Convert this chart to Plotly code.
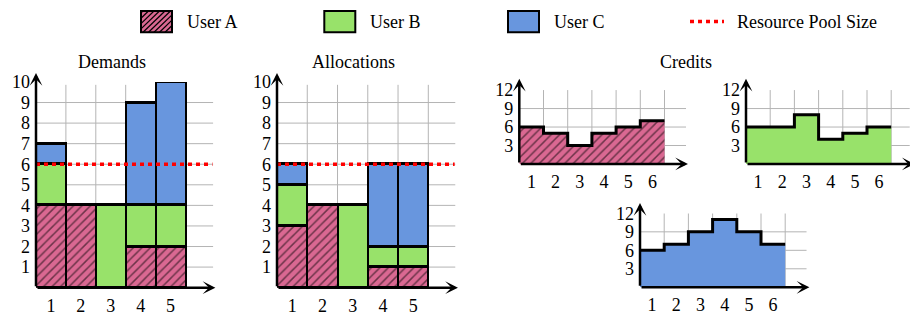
import plotly.graph_objects as go

W, H = 910, 317

# ---------------- data ----------------
series_names = ["User A", "User B", "User C", "Resource Pool Size"]
steps = ["1", "2", "3", "4", "5"]
demand_a = [4, 4, 0, 2, 2]
demand_b = [2, 0, 4, 2, 2]
demand_c = [1, 0, 0, 5, 6]
alloc_a = [3, 4, 0, 1, 1]
alloc_b = [2, 0, 4, 1, 1]
alloc_c = [1, 0, 0, 4, 4]
pool_size = 6
bar_yticks = [1, 2, 3, 4, 5, 6, 7, 8, 9, 10]

credit_steps = ["1", "2", "3", "4", "5", "6"]
credits_a = [6, 5, 3, 5, 6, 7]
credits_b = [6, 6, 8, 4, 5, 6]
credits_c = [6, 7, 9, 11, 9, 7]
credit_yticks = [3, 6, 9, 12]

# ---------------- style ----------------
PINK = "#DA6892"
GREEN = "#98E26A"
BLUE = "#6896DE"
GRID = "#b4b4b4"
FONT = "Liberation Serif"
TICK_SIZE = 18
HATCH = dict(shape="/", fgcolor="black", size=6, solidity=0.25)

# panel geometry (pixels): origin, unit sizes, range, grid extent, arrow tips
panels = [
    dict(ox=36, oy=286.7, ux=29.9, uy=21.24, xr=5.93, yr=10, gx=5.93, gy=9.86, tx=6.0, ty=10.44),
    dict(ox=277, oy=286.7, ux=30.26, uy=21.24, xr=5.9, yr=10, gx=5.9, gy=9.86, tx=5.98, ty=10.44),
    dict(ox=519.3, oy=159, ux=24.2, uy=6.36, xr=6.89, yr=12, gx=6.89, gy=12, tx=6.97, ty=13.84),
    dict(ox=746, oy=159, ux=24.2, uy=6.36, xr=6.77, yr=12, gx=6.77, gy=12, tx=6.97, ty=13.84),
    dict(ox=640, oy=286.3, ux=24.2, uy=6.36, xr=6.89, yr=12, gx=6.89, gy=12, tx=7.0, ty=13.7),
]

fig = go.Figure()
layout = dict(
    width=W, height=H, margin=dict(l=0, r=0, t=0, b=0), autosize=False,
    paper_bgcolor="white", plot_bgcolor="rgba(0,0,0,0)", showlegend=False,
    barmode="stack", bargap=0, font=dict(family=FONT, size=TICK_SIZE, color="black"),
)
shapes = []
annotations = []

for i, p in enumerate(panels):
    n = "" if i == 0 else str(i + 1)
    xa, ya = "x" + n, "y" + n
    is_bar = i < 2
    labels = steps if is_bar else credit_steps
    layout["xaxis" + n] = dict(
        domain=[p["ox"] / W, (p["ox"] + p["ux"] * p["xr"]) / W],
        range=[0, p["xr"]], anchor=ya, showgrid=False, zeroline=False, showline=False,
        tickmode="array", tickvals=[k + 0.5 for k in range(len(labels))], ticktext=labels,
        ticks="", ticklabelstandoff=5, tickfont=dict(family=FONT, size=TICK_SIZE, color="black"),
        fixedrange=True,
    )
    yt = bar_yticks if is_bar else credit_yticks
    layout["yaxis" + n] = dict(
        domain=[1 - p["oy"] / H, 1 - (p["oy"] - p["uy"] * p["yr"]) / H],
        range=[0, p["yr"]], anchor=xa, showgrid=False, zeroline=False, showline=False,
        tickmode="array", tickvals=yt, ticktext=[str(v) for v in yt],
        ticks="", ticklabelstandoff=5, tickfont=dict(family=FONT, size=TICK_SIZE, color="black"),
        fixedrange=True,
    )
    # grid
    step_y = 1 if is_bar else 3
    for gxv in range(1, int(p["gx"]) + 1):
        shapes.append(dict(type="line", xref=xa, yref=ya, x0=gxv, x1=gxv, y0=0, y1=p["gy"],
                           line=dict(color=GRID, width=1), layer="below"))
    gyv = step_y
    while gyv < p["gy"] - 0.01:
        shapes.append(dict(type="line", xref=xa, yref=ya, x0=0, x1=p["gx"], y0=gyv, y1=gyv,
                           line=dict(color=GRID, width=1), layer="below"))
        gyv += step_y
    # axis arrows
    for hx, hy in [(p["tx"], 0), (0, p["ty"])]:
        annotations.append(dict(
            x=hx, y=hy, xref=xa, yref=ya, ax=0, ay=0, axref=xa, ayref=ya, text="",
            showarrow=True, arrowhead=3, arrowsize=0.85, arrowwidth=2.5, arrowcolor="black",
        ))

# bars
pos = [k + 0.5 for k in range(len(steps))]
for (xa, ya), (va, vb, vc) in [
    (("x", "y"), (demand_a, demand_b, demand_c)),
    (("x2", "y2"), (alloc_a, alloc_b, alloc_c)),
]:
    for vals, color, name, pat in [
        (va, PINK, series_names[0], HATCH),
        (vb, GREEN, series_names[1], None),
        (vc, BLUE, series_names[2], None),
    ]:
        marker = dict(color=color, line=dict(color="black", width=2.5))
        if pat:
            marker["pattern"] = pat
        fig.add_trace(go.Bar(x=pos, y=vals, width=1, marker=marker, name=name,
                             xaxis=xa, yaxis=ya, hoverinfo="skip"))
    shapes.append(dict(type="line", xref=xa + " domain", yref=ya, x0=0, x1=0.995,
                       y0=pool_size, y1=pool_size, layer="above",
                       line=dict(color="#ff0000", width=3.5, dash="4px,4px")))

# credits
for (xa, ya), vals, color, name, pat in [
    (("x3", "y3"), credits_a, PINK, series_names[0], HATCH),
    (("x4", "y4"), credits_b, GREEN, series_names[1], None),
    (("x5", "y5"), credits_c, BLUE, series_names[2], None),
]:
    kw = dict(fillpattern=pat) if pat else {}
    fig.add_trace(go.Scatter(
        x=list(range(len(vals) + 1)), y=vals + [vals[-1]], mode="lines",
        line=dict(color="black", width=3, shape="hv"), fill="tozeroy", fillcolor=color,
        name=name, xaxis=xa, yaxis=ya, hoverinfo="skip", **kw))

# titles
for txt, cx, cy in [("Demands", 111.5, 54), ("Allocations", 353, 54), ("Credits", 685.5, 54)]:
    annotations.append(dict(text=txt, x=cx / W, y=1 - cy / H, xref="paper", yref="paper",
                            xanchor="center", yanchor="middle", showarrow=False,
                            font=dict(family=FONT, size=18, color="black")))

# legend (manual)
def px(x):
    return x / W

def py(y):
    return 1 - y / H

legend_left = [141, 324.3, 508, 690]
box_top, box_bot, box_w = 1, 23, 31
for k, (name, color) in enumerate(zip(series_names[:3], [PINK, GREEN, BLUE])):
    x0, x1 = legend_left[k], legend_left[k] + box_w
    shapes.append(dict(type="rect", xref="paper", yref="paper", x0=px(x0), x1=px(x1),
                       y0=py(box_bot), y1=py(box_top), fillcolor=color,
                       line=dict(color="black", width=2)))
    if k == 0:
        c = x0 + box_top + 2
        while c < x1 + box_bot:
            lo = max(x0, c - box_bot)
            hi = min(x1, c - box_top)
            if hi - lo > 0.5:
                shapes.append(dict(type="line", xref="paper", yref="paper",
                                   x0=px(lo), y0=py(c - lo), x1=px(hi), y1=py(c - hi),
                                   line=dict(color="black", width=1.2)))
            c += 5.5
    annotations.append(dict(text=name, x=px(x0 + 44), y=py(12), xref="paper", yref="paper",
                            xanchor="left", yanchor="middle", showarrow=False,
                            font=dict(family=FONT, size=18, color="black")))
shapes.append(dict(type="line", xref="paper", yref="paper", x0=px(690), x1=px(724),
                   y0=py(12), y1=py(12), line=dict(color="#ff0000", width=3.5, dash="4px,4px")))
annotations.append(dict(text=series_names[3], x=px(735), y=py(12), xref="paper", yref="paper",
                        xanchor="left", yanchor="middle", showarrow=False,
                        font=dict(family=FONT, size=18, color="black")))

layout["shapes"] = shapes
layout["annotations"] = annotations
fig.update_layout(**layout)
fig.write_html(
    "out.html",
    config={"displayModeBar": False},
    post_script="document.body.style.margin='0px';document.body.style.overflow='hidden';",
)
